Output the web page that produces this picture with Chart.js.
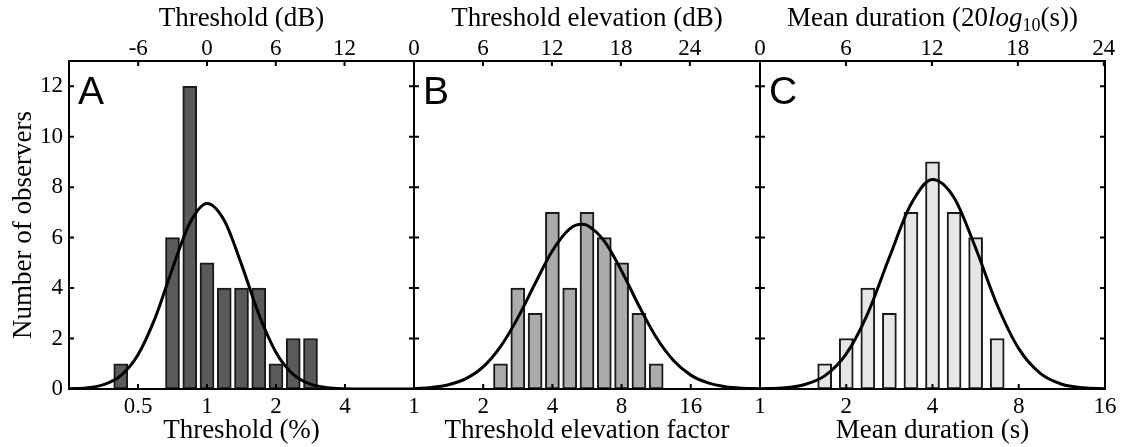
<!DOCTYPE html>
<html>
<head>
<meta charset="utf-8">
<style>
  html, body { margin: 0; padding: 0; background: #fff; }
  #wrap { position: relative; width: 1125px; height: 447px; overflow: hidden; }
  #wrap canvas { position: absolute; top: 0; }
</style>
</head>
<body>
<div id="wrap">
  <canvas id="chartA" width="434" height="447" style="left:0px"></canvas>
  <canvas id="chartB" width="386" height="447" style="left:394px"></canvas>
  <canvas id="chartC" width="385" height="447" style="left:740px"></canvas>
</div>
<script src="https://cdn.jsdelivr.net/npm/chart.js"></script>
<script>
// all x positions are in octaves (log2 of the bottom axis value)

// panel A - threshold (%)
const binsA = [-1.25, -0.5, -0.25, 0, 0.25, 0.5, 0.75, 1, 1.25, 1.5]
const countsA = [1, 6, 12, 5, 4, 4, 4, 1, 2, 2]
const fitXA = [-2, -1.75, -1.5, -1.25, -1, -0.75, -0.5, -0.25, 0, 0.25, 0.5, 0.75, 1, 1.25, 1.5, 1.75, 2, 2.25, 2.5, 2.75, 3]
const fitYA = [0.01, 0.04, 0.17, 0.53, 1.36, 2.83, 4.78, 6.57, 7.35, 6.68, 4.94, 2.97, 1.45, 0.58, 0.19, 0.05, 0.01, 0, 0, 0, 0]
const botValsA = [0.5, 1, 2, 4]
const topDbA = [-6, 0, 6, 12]

// panel B - threshold elevation factor
const binsB = [1.25, 1.5, 1.75, 2, 2.25, 2.5, 2.75, 3, 3.25, 3.5]
const countsB = [1, 4, 3, 7, 4, 7, 6, 5, 3, 1]
const fitXB = [0, 0.25, 0.5, 0.75, 1, 1.25, 1.5, 1.75, 2, 2.25, 2.42, 2.5, 2.75, 3, 3.25, 3.5, 3.75, 4, 4.25, 4.5, 4.75, 5]
const fitYB = [0.02, 0.06, 0.17, 0.41, 0.88, 1.68, 2.82, 4.18, 5.48, 6.35, 6.53, 6.49, 5.86, 4.68, 3.3, 2.05, 1.13, 0.55, 0.24, 0.09, 0.03, 0.01]
const botValsB = [1, 2, 4, 8, 16]
const topDbB = [0, 6, 12, 18, 24]

// panel C - mean duration (s)
const binsC = [0.75, 1, 1.25, 1.5, 1.75, 2, 2.25, 2.5, 2.75]
const countsC = [1, 2, 4, 3, 7, 9, 7, 6, 2]
const fitXC = [0, 0.25, 0.5, 0.75, 1, 1.25, 1.5, 1.75, 2, 2.25, 2.5, 2.75, 3, 3.25, 3.5, 3.75, 4]
const fitYC = [0.01, 0.04, 0.16, 0.52, 1.39, 3.0, 5.22, 7.32, 8.3, 7.58, 5.59, 3.33, 1.6, 0.62, 0.19, 0.05, 0.01]
const botValsC = [1, 2, 4, 8, 16]
const topDbC = [0, 6, 12, 18, 24]

const yTicks = [0, 2, 4, 6, 8, 10, 12]

const titleRunsC = [
  { text: 'Mean duration (20', italic: false, sub: false },
  { text: 'log', italic: true, sub: false },
  { text: '10', italic: false, sub: true },
  { text: '(s))', italic: false, sub: false }
]

const SERIF = '"Liberation Serif", "Times New Roman", serif'
const DB_PER_OCTAVE = 20 * Math.log10(2)

Chart.defaults.font.family = SERIF
Chart.defaults.color = '#000'

const panelFrame = {
  id: 'panelFrame',
  afterDatasetsDraw(chart, args, o) {
    const { ctx, chartArea: a, scales } = chart
    ctx.save()
    ctx.strokeStyle = '#000'
    ctx.lineWidth = 2
    ctx.beginPath()
    yTicks.forEach(v => {
      let py = scales.y.getPixelForValue(v)
      ctx.moveTo(a.left, py); ctx.lineTo(a.left + 5, py)
      ctx.moveTo(a.right, py); ctx.lineTo(a.right - 5, py)
    })
    scales.x.ticks.forEach(t => {
      let px = scales.x.getPixelForValue(t.value)
      ctx.moveTo(px, a.bottom); ctx.lineTo(px, a.bottom - 5)
    })
    scales.x2.ticks.forEach(t => {
      let px = scales.x2.getPixelForValue(t.value)
      ctx.moveTo(px, a.top); ctx.lineTo(px, a.top + 5)
    })
    ctx.stroke()
    ctx.strokeRect(a.left, a.top, a.right - a.left, a.bottom - a.top)

    ctx.fillStyle = '#000'
    ctx.font = '39px "Liberation Sans", Arial, sans-serif'
    ctx.textBaseline = 'alphabetic'
    ctx.textAlign = 'left'
    ctx.fillText(o.letter, a.left + 9, a.top + 43)

    // mixed-style axis title (italic log, subscript 10)
    if (o.titleRuns) {
      const fontFor = r => (r.italic ? 'italic ' : '') + (r.sub ? '18px ' : '27px ') + SERIF
      let total = 0
      o.titleRuns.forEach(r => { ctx.font = fontFor(r); total += ctx.measureText(r.text).width })
      let x = (a.left + a.right) / 2 - total / 2
      ctx.textBaseline = 'middle'
      o.titleRuns.forEach(r => {
        ctx.font = fontFor(r)
        ctx.fillText(r.text, x, r.sub ? 26 : 18.5)
        x += ctx.measureText(r.text).width
      })
    }
    ctx.restore()
  }
}

function makePanel(id, p) {
  return new Chart(document.getElementById(id), {
    type: 'bar',
    data: {
      datasets: [{
        type: 'line',
        data: p.fitX.map((x, i) => ({ x: x, y: p.fitY[i] })),
        borderColor: '#000',
        borderWidth: 3,
        pointRadius: 0,
        cubicInterpolationMode: 'monotone',
        order: 0
      }, {
        type: 'bar',
        data: p.bins.map((x, i) => ({ x: x, y: p.counts[i] })),
        backgroundColor: p.fill,
        borderColor: '#1a1a1a',
        borderWidth: 2,
        borderSkipped: false,
        barThickness: 14,
        order: 1
      }]
    },
    options: {
      responsive: false,
      animation: false,
      layout: { padding: { left: p.padL, right: p.padR, top: 0, bottom: 0 } },
      plugins: {
        legend: { display: false },
        tooltip: { enabled: false },
        panelFrame: { letter: p.letter, titleRuns: p.titleRuns }
      },
      scales: {
        x: {
          type: 'linear',
          position: 'bottom',
          min: p.min,
          max: p.max,
          offset: false,
          grid: { display: false, drawTicks: false },
          border: { display: false },
          afterBuildTicks: s => { s.ticks = p.botVals.map(v => ({ value: Math.log2(v) })) },
          afterFit: s => { s.height = 58 },
          ticks: {
            autoSkip: false, maxRotation: 0, padding: 6,
            font: { size: 23, lineHeight: 1 },
            callback: (v, i) => String(p.botVals[i])
          },
          title: { display: true, text: p.botTitle, padding: { top: 0, bottom: 2.5 }, font: { size: 27, lineHeight: 1 } }
        },
        x2: {
          type: 'linear',
          position: 'top',
          min: p.min,
          max: p.max,
          offset: false,
          grid: { display: false, drawTicks: false },
          border: { display: false },
          afterBuildTicks: s => { s.ticks = p.topDb.map(v => ({ value: v / DB_PER_OCTAVE })) },
          afterFit: s => { s.height = 61 },
          ticks: {
            autoSkip: false, maxRotation: 0, padding: 1,
            font: { size: 23, lineHeight: 1 },
            callback: (v, i) => String(p.topDb[i])
          },
          title: { display: !!p.topTitle, text: p.topTitle || '', padding: { top: 5, bottom: 0 }, font: { size: 27, lineHeight: 1 } }
        },
        y: p.showY ? {
          min: 0,
          max: 13,
          grid: { display: false, drawTicks: false },
          border: { display: false },
          afterBuildTicks: s => { s.ticks = yTicks.map(v => ({ value: v })) },
          afterFit: s => { s.width = 69 },
          ticks: { autoSkip: false, padding: 6, font: { size: 23, lineHeight: 1 } },
          title: { display: true, text: 'Number of observers', padding: { top: 10, bottom: 0 }, font: { size: 27, lineHeight: 1 } }
        } : { min: 0, max: 13, display: false }
      }
    },
    plugins: [panelFrame]
  })
}

makePanel('chartA', {
  letter: 'A', showY: true, padL: 0, padR: 20, min: -2, max: 3,
  bins: binsA, counts: countsA, fitX: fitXA, fitY: fitYA, fill: '#5a5a5a',
  botVals: botValsA, topDb: topDbA,
  botTitle: 'Threshold (%)', topTitle: 'Threshold (dB)'
})

makePanel('chartB', {
  letter: 'B', showY: false, padL: 20, padR: 20, min: 0, max: 5,
  bins: binsB, counts: countsB, fitX: fitXB, fitY: fitYB, fill: '#ababab',
  botVals: botValsB, topDb: topDbB,
  botTitle: 'Threshold elevation factor', topTitle: 'Threshold elevation (dB)'
})

makePanel('chartC', {
  letter: 'C', showY: false, padL: 20, padR: 20, min: 0, max: 4,
  bins: binsC, counts: countsC, fitX: fitXC, fitY: fitYC, fill: '#e6e6e6',
  botVals: botValsC, topDb: topDbC,
  botTitle: 'Mean duration (s)', titleRuns: titleRunsC
})
</script>
</body>
</html>
